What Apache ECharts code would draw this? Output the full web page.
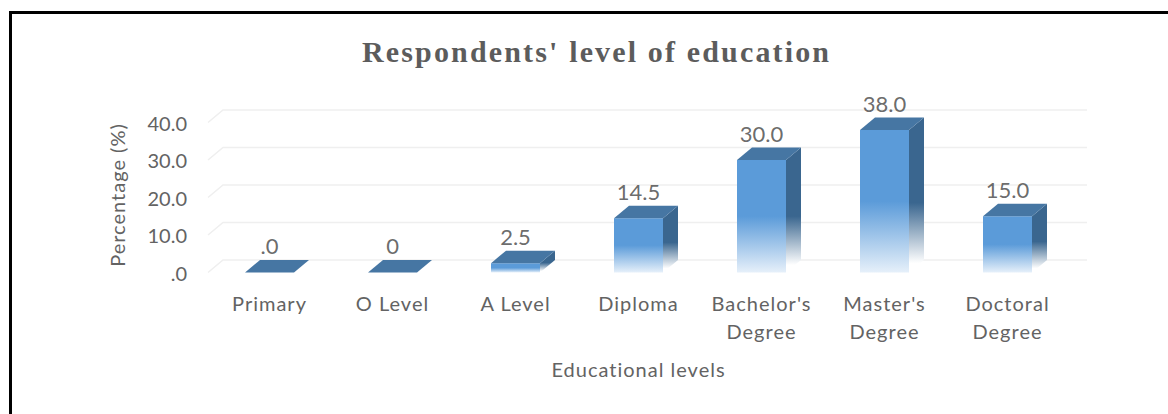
<!DOCTYPE html>
<html>
<head>
<meta charset="utf-8">
<style>
  html, body { margin: 0; padding: 0; background: #fff; }
  #chart { width: 1168px; height: 414px; }
  /* Tracking for the heading and for worded labels */
  #chart svg text[style*="Liberation Serif"] { letter-spacing: 2.15px; }
  #chart svg text[style*="Noto Sans"] { letter-spacing: 1px; }
</style>
<script src="https://cdn.jsdelivr.net/npm/echarts@6/dist/echarts.min.js"></script>
</head>
<body>
<div id="chart"></div>
<script>
// Education levels and the share of respondents at each one
const categories = ['Primary', 'O Level', 'A Level', 'Diploma', "Bachelor's\nDegree", "Master's\nDegree", 'Doctoral\nDegree'];
const percentages = [0, 0, 2.5, 14.5, 30, 38, 15];
const valueLabels = ['.0', '0', '2.5', '14.5', '30.0', '38.0', '15.0'];
const yTicks = [0, 10, 20, 30, 40];

const NUMBER_FONT = 'Lato, sans-serif';
const WORD_FONT = 'Lato, "Noto Sans", sans-serif';
const DEPTH_X = 15;
const DEPTH_Y = -12.5;
const BAR_WIDTH = 49;

const chart = echarts.init(document.getElementById('chart'), null, { renderer: 'svg' });

// Back wall gridlines, with the short diagonal running from the front plane
function renderGridline(params, api) {
  const p = api.coord([0, api.value(0)]);
  const left = params.coordSys.x;
  const right = left + params.coordSys.width;
  return {
    type: 'polyline',
    silent: true,
    shape: { points: [[left, p[1]], [left + DEPTH_X, p[1] + DEPTH_Y], [right + DEPTH_X + 3, p[1] + DEPTH_Y]] },
    style: { fill: null, stroke: '#efefef', lineWidth: 1.5 }
  };
}

// Extruded column: side face, front face and cap
function renderColumn(params, api) {
  const base = api.coord([api.value(0), 0]);
  const top = api.coord([api.value(0), api.value(1)]);
  const x0 = base[0] - BAR_WIDTH / 2;
  const x1 = base[0] + BAR_WIDTH / 2;
  const yB = base[1];
  const yT = top[1];
  const children = [];
  if (yB - yT > 0.5) {
    children.push({
      type: 'polygon',
      shape: { points: [[x1, yT], [x1 + DEPTH_X, yT + DEPTH_Y], [x1 + DEPTH_X, yB + DEPTH_Y], [x1, yB]] },
      style: {
        fill: new echarts.graphic.LinearGradient(0, 0, 0, 1, [
          { offset: 0, color: '#3a668f' },
          { offset: 0.55, color: '#3a668f' },
          { offset: 0.94, color: '#ffffff' },
          { offset: 1, color: '#ffffff' }
        ])
      }
    });
    children.push({
      type: 'rect',
      shape: { x: x0, y: yT, width: BAR_WIDTH, height: yB - yT },
      style: {
        fill: new echarts.graphic.LinearGradient(0, 0, 0, 1, [
          { offset: 0, color: '#5b9bd9' },
          { offset: 0.5, color: '#5b9bd9' },
          { offset: 1, color: '#e6f0fa' }
        ])
      }
    });
  }
  children.push({
    type: 'polygon',
    shape: { points: [[x0, yT], [x0 + DEPTH_X, yT + DEPTH_Y], [x1 + DEPTH_X, yT + DEPTH_Y], [x1, yT]] },
    style: { fill: '#4676a3' }
  });
  return { type: 'group', children };
}

chart.setOption({
  animation: false,
  backgroundColor: '#ffffff',
  title: {
    text: "Respondents' level of education",
    left: 357,
    top: 31,
    textStyle: {
      fontFamily: '"Liberation Serif", serif',
      fontWeight: 'bold',
      fontSize: 30,
      color: '#5c5c5c'
    }
  },
  grid: { left: 208, right: 99, top: 122.5, height: 150, containLabel: false },
  xAxis: {
    type: 'category',
    data: categories,
    axisLine: { show: false },
    axisTick: { show: false },
    axisLabel: { margin: 16, fontFamily: WORD_FONT, fontSize: 20, color: '#636363', lineHeight: 28, interval: 0 },
    name: 'Educational levels',
    nameLocation: 'middle',
    nameGap: 86,
    nameTextStyle: { fontFamily: WORD_FONT, fontSize: 20, color: '#636363' }
  },
  yAxis: {
    type: 'value',
    min: 0,
    max: 40,
    interval: 10,
    axisLine: { show: false },
    axisTick: { show: false },
    splitLine: { show: false },
    axisLabel: {
      margin: 21,
      padding: [2, 0, 0, 0],
      fontFamily: NUMBER_FONT,
      fontSize: 20,
      color: '#636363',
      formatter: v => v.toFixed(1).replace(/^0/, '')
    },
    name: 'Percentage (%)',
    nameLocation: 'middle',
    nameGap: 81,
    nameTextStyle: { fontFamily: WORD_FONT, fontSize: 20, color: '#636363', padding: [0, 0, 0, 5] }
  },
  series: [
    {
      type: 'custom',
      renderItem: renderGridline,
      data: yTicks.map(v => [v]),
      encode: { y: 0 },
      silent: true,
      z: 1
    },
    {
      type: 'custom',
      renderItem: renderColumn,
      data: percentages.map((v, i) => [i, v]),
      encode: { x: 0, y: 1 },
      z: 2
    },
    {
      // Value labels sit above each column's cap
      type: 'scatter',
      data: percentages.map((v, i) => [i, v]),
      symbolSize: 0,
      silent: true,
      z: 3,
      label: {
        show: true,
        position: 'top',
        distance: 16,
        fontFamily: NUMBER_FONT,
        fontSize: 22,
        color: '#454545',
        formatter: p => valueLabels[p.dataIndex]
      }
    }
  ],
  // Black frame around the figure, open on the right and bottom
  graphic: [
    { type: 'rect', silent: true, shape: { x: 9, y: 11, width: 1159, height: 3 }, style: { fill: '#000' } },
    { type: 'rect', silent: true, shape: { x: 9, y: 11, width: 3, height: 403 }, style: { fill: '#000' } }
  ]
});
</script>
</body>
</html>
